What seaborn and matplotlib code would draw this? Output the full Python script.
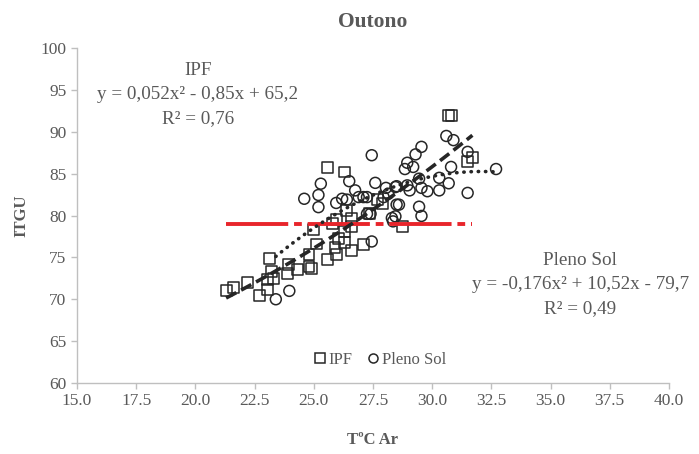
import numpy as np
import pandas as pd
import matplotlib
matplotlib.use("Agg")
import matplotlib.pyplot as plt
from matplotlib.lines import Line2D
import seaborn as sns

# ---- data ----
ipf_x = [21.3, 21.6, 22.2, 22.7, 23.05, 23.05, 23.3, 23.2, 23.15, 23.9, 23.95, 24.3,
         24.8, 24.8, 24.9, 25.1, 25.0, 25.6, 26.3, 25.6, 25.95, 25.9, 26.05, 26.3,
         26.6, 27.1, 25.8, 25.95, 26.4, 26.6, 26.6, 26.3, 27.35, 27.7, 27.9, 28.75,
         30.7, 30.8, 31.5, 31.7]
ipf_y = [71.1, 71.4, 72.0, 70.4, 71.2, 72.4, 72.5, 73.3, 74.9, 73.1, 74.2, 73.6,
         75.4, 73.9, 73.7, 76.6, 78.3, 85.7, 85.2, 74.7, 75.4, 76.2, 77.2, 76.8,
         75.8, 76.5, 79.1, 79.5, 80.6, 79.6, 78.7, 78.1, 80.2, 81.9, 81.4, 78.7,
         91.9, 91.9, 86.4, 86.9]

sol_x = [23.4, 23.97, 24.6, 25.2, 25.3, 25.2, 25.95, 26.2, 26.4, 26.5, 26.75, 26.9,
         27.1, 27.25, 27.45, 27.6, 27.95, 28.05, 28.15, 28.45, 28.5, 28.5, 28.3, 28.35,
         28.45, 27.45, 27.4, 27.25, 28.6, 28.85, 28.95, 29.2, 29.3, 29.55, 28.95, 29.05,
         29.45, 29.55, 29.8, 29.45, 29.55, 30.3, 30.3, 30.6, 30.9, 30.7, 30.8, 31.5,
         31.5, 32.7]
sol_y = [70.0, 71.0, 82.0, 82.45, 83.8, 81.0, 81.5, 82.0, 81.9, 84.1, 83.0, 82.2,
         82.2, 82.2, 87.2, 83.9, 82.2, 83.3, 82.6, 83.4, 83.5, 81.3, 79.7, 79.3,
         79.9, 76.9, 80.2, 80.2, 81.3, 85.55, 86.3, 85.8, 87.3, 88.2, 83.6, 83.0,
         84.4, 83.3, 82.9, 81.05, 79.95, 84.5, 83.0, 89.5, 89.0, 83.85, 85.8, 87.6,
         82.7, 85.55]

itgu_ref = 79.0
series_labels = ["IPF", "Pleno Sol"]
ipf_text = "IPF\ny = 0,052x² - 0,85x + 65,2\nR² = 0,76"
sol_text = "Pleno Sol\ny = -0,176x² + 10,52x - 79,7\nR² = 0,49"
x_ticks = [15.0, 17.5, 20.0, 22.5, 25.0, 27.5, 30.0, 32.5, 35.0, 37.5, 40.0]
y_ticks = [60, 65, 70, 75, 80, 85, 90, 95, 100]

df = pd.concat([
    pd.DataFrame({"x": ipf_x, "y": ipf_y, "grupo": "IPF"}),
    pd.DataFrame({"x": sol_x, "y": sol_y, "grupo": "Pleno Sol"}),
])

sns.set_theme(style="white")
plt.rcParams["font.family"] = ["Liberation Serif", "DejaVu Serif"]

gray = "#595959"
edge = "#262626"

fig = plt.figure(figsize=(6.99, 4.54), dpi=100)
ax = fig.add_axes([0.110, 0.1564, 0.847, 0.7378])

sns.scatterplot(data=df[df.grupo == "IPF"], x="x", y="y", marker="s", s=62,
                facecolors="none", edgecolor=edge, linewidth=1.1, ax=ax, legend=False)
sns.scatterplot(data=df[df.grupo == "Pleno Sol"], x="x", y="y", marker="o", s=62,
                facecolors="none", edgecolor=edge, linewidth=1.1, ax=ax, legend=False)

# red reference line
xr = [min(ipf_x), max(ipf_x)]
ax.plot(xr, [itgu_ref, itgu_ref], color="#e8252b", lw=2.8, dashes=(16, 1.5, 2, 1.5), zorder=3)

# polynomial trendlines
cf = np.polyfit(ipf_x, ipf_y, 2)
xx = np.linspace(min(ipf_x), max(ipf_x), 100)
ax.plot(xx, np.polyval(cf, xx), color=edge, lw=2.6, dashes=(3.2, 1.5), zorder=4)
cs = np.polyfit(sol_x, sol_y, 2)
xs = np.linspace(min(sol_x), max(sol_x), 100)
ax.plot(xs, np.polyval(cs, xs), color=edge, lw=2.6, linestyle=(0, (0.1, 1.9)),
        dash_capstyle="round", zorder=4)

ax.set_xlim(15, 40)
ax.set_ylim(60, 100)
ax.set_xticks(x_ticks)
ax.set_xticklabels([f"{t:.1f}" for t in x_ticks])
ax.set_yticks(y_ticks)
ax.tick_params(axis="both", labelsize=12.5, labelcolor=gray, color="#bfbfbf",
               length=4, width=1, direction="out", bottom=True, left=True)
for s in ["top", "right"]:
    ax.spines[s].set_visible(False)
for s in ["left", "bottom"]:
    ax.spines[s].set_color("#bfbfbf")
    ax.spines[s].set_linewidth(1)

ax.set_xlabel("TºC Ar", fontsize=12, fontweight="bold", color=gray, labelpad=16)
ax.set_ylabel("ITGU", fontsize=12, fontweight="bold", color=gray, labelpad=8)
ax.set_title("Outono", fontsize=15.5, fontweight="bold", color=gray, pad=15)

ax.text(20.1, 98.3, ipf_text, ha="center", va="top", fontsize=13.8, color=gray,
        linespacing=1.55)
ax.text(36.25, 75.7, sol_text, ha="center", va="top", fontsize=13.8, color=gray,
        linespacing=1.55)

handles = [
    Line2D([], [], marker="s", ls="none", mfc="none", mec=edge, ms=6.5, mew=1.1),
    Line2D([], [], marker="o", ls="none", mfc="none", mec=edge, ms=6.5, mew=1.1),
]
leg = ax.legend(handles, series_labels, loc="lower center", bbox_to_anchor=(0.51, 0.0),
                ncol=2, frameon=False, fontsize=12, handletextpad=0.05,
                columnspacing=0.7, handlelength=1.0)
for t in leg.get_texts():
    t.set_color(gray)

fig.savefig("out.png", dpi=100)
